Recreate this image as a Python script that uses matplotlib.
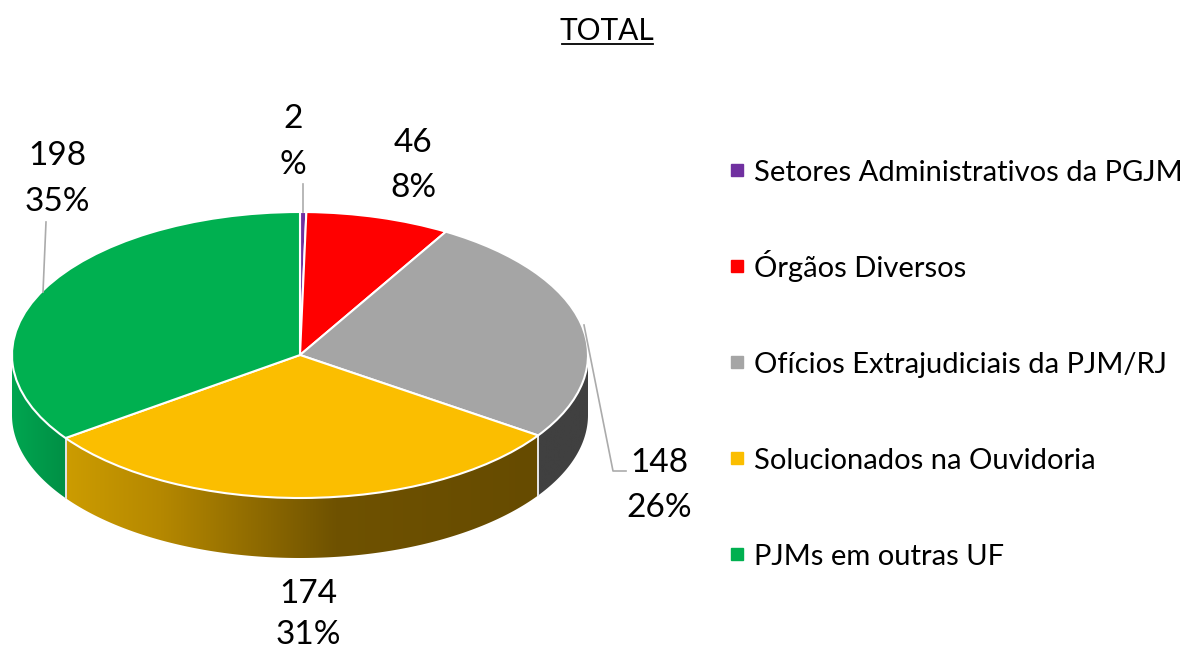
import numpy as np
import matplotlib
matplotlib.use("Agg")
import matplotlib.pyplot as plt
from matplotlib.patches import Polygon
from matplotlib.colors import LinearSegmentedColormap

categories = ["Setores Administrativos da PGJM", "Órgãos Diversos",
              "Ofícios Extrajudiciais da PJM/RJ", "Solucionados na Ouvidoria",
              "PJMs em outras UF"]
values = [2, 46, 148, 174, 198]
percents = ["%", "8%", "26%", "31%", "35%"]
colors = ["#7030A0", "#FF0000", "#A5A5A5", "#FBBE00", "#00B050"]
title = "TOTAL"

W, H = 1186, 651
plt.rcParams["font.family"] = ["Lato", "DejaVu Sans"]
fig = plt.figure(figsize=(W / 100, H / 100), dpi=100)

# overlay in pixel units, for labels and leader lines
ov = fig.add_axes([0, 0, 1, 1], zorder=3)
ov.set_xlim(0, W); ov.set_ylim(H, 0); ov.axis("off"); ov.patch.set_alpha(0)

# pie axes: unit circle squashed to an ellipse, extended downward for the wall
cx, cy, rx, ry, depth_px = 300, 355, 288, 143, 60
ax = fig.add_axes([(cx - rx) / W, 1 - (cy + ry + depth_px) / H,
                   2 * rx / W, (2 * ry + depth_px) / H], zorder=2)
depth = depth_px / ry
wedges, _ = ax.pie(values, colors=colors, startangle=90, counterclock=False,
                   wedgeprops=dict(edgecolor="white", linewidth=1.5, zorder=2))
ax.set_aspect("auto")

cum = np.cumsum([0] + values) / sum(values) * 360
wall_maps = {
    2: [(0, "#404040"), (1, "#404040")],
    3: [(0, "#CC9C00"), (.2, "#B58800"), (.57, "#6F5200"), (1, "#664B00")],
    4: [(0, "#00A650"), (1, "#008F45")],
}
for i, stops in wall_maps.items():
    a0, a1 = max(cum[i], 90), min(cum[i + 1], 270)
    t = np.radians(np.linspace(a0, a1, 200))
    x, y = np.sin(t), np.cos(t)
    pts = np.vstack([np.c_[x, y], np.c_[x[::-1], y[::-1] - depth]])
    poly = Polygon(pts, closed=True, facecolor="none", edgecolor="none")
    ax.add_patch(poly)
    cmap = LinearSegmentedColormap.from_list("wall%d" % i, stops)
    g = np.linspace(0, 1, 256)[None, :]
    if i != 4:
        g = g[:, ::-1] if i == 2 else g
    im = ax.imshow(g, extent=[x.min(), x.max(), -1 - depth, 0], aspect="auto",
                   cmap=cmap, zorder=0.5)
    im.set_clip_path(poly)
    for a in (a0, a1):
        if 90 < a < 270:
            tt = np.radians(a)
            ax.plot([np.sin(tt)] * 2, [np.cos(tt), np.cos(tt) - depth], color="#E4E4E4",
                    lw=1.4, zorder=0.8)
ax.set_xlim(-1, 1); ax.set_ylim(-1 - depth, 1)
ax.axis("off")

# value labels
label_pos = [(293, 119, 165), (413, 143, 188), (659, 463, 508), (308, 594, 635), (57, 156, 202)]
fs = 24
for v, p, (x, y1, y2) in zip(values, percents, label_pos):
    ov.text(x, y1, str(v), ha="center", va="center", fontsize=fs, color="black")
    ov.text(x, y2, p, ha="center", va="center", fontsize=fs, color="black")

# leader lines
lc = "#ABABAB"
ov.plot([303, 303], [184, 212], color=lc, lw=1.2)
ov.plot([584, 613, 626], [325, 471, 471], color=lc, lw=1.2)
ov.plot([46, 43], [222, 292], color=lc, lw=1.2)

# title
ov.text(607, 31, title, ha="center", va="center", fontsize=21.5, color="black")
ov.plot([562, 653], [44, 44], color="black", lw=1.3)

# legend
for i, (c, name) in enumerate(zip(colors, categories)):
    yy = 170 + 96 * i
    ov.plot([737], [yy], marker="s", ls="none", color=c, markersize=9)
    ov.text(754, yy + 11, name, ha="left", va="baseline", fontsize=21, color="black")
fig.savefig("out.png", dpi=100)
